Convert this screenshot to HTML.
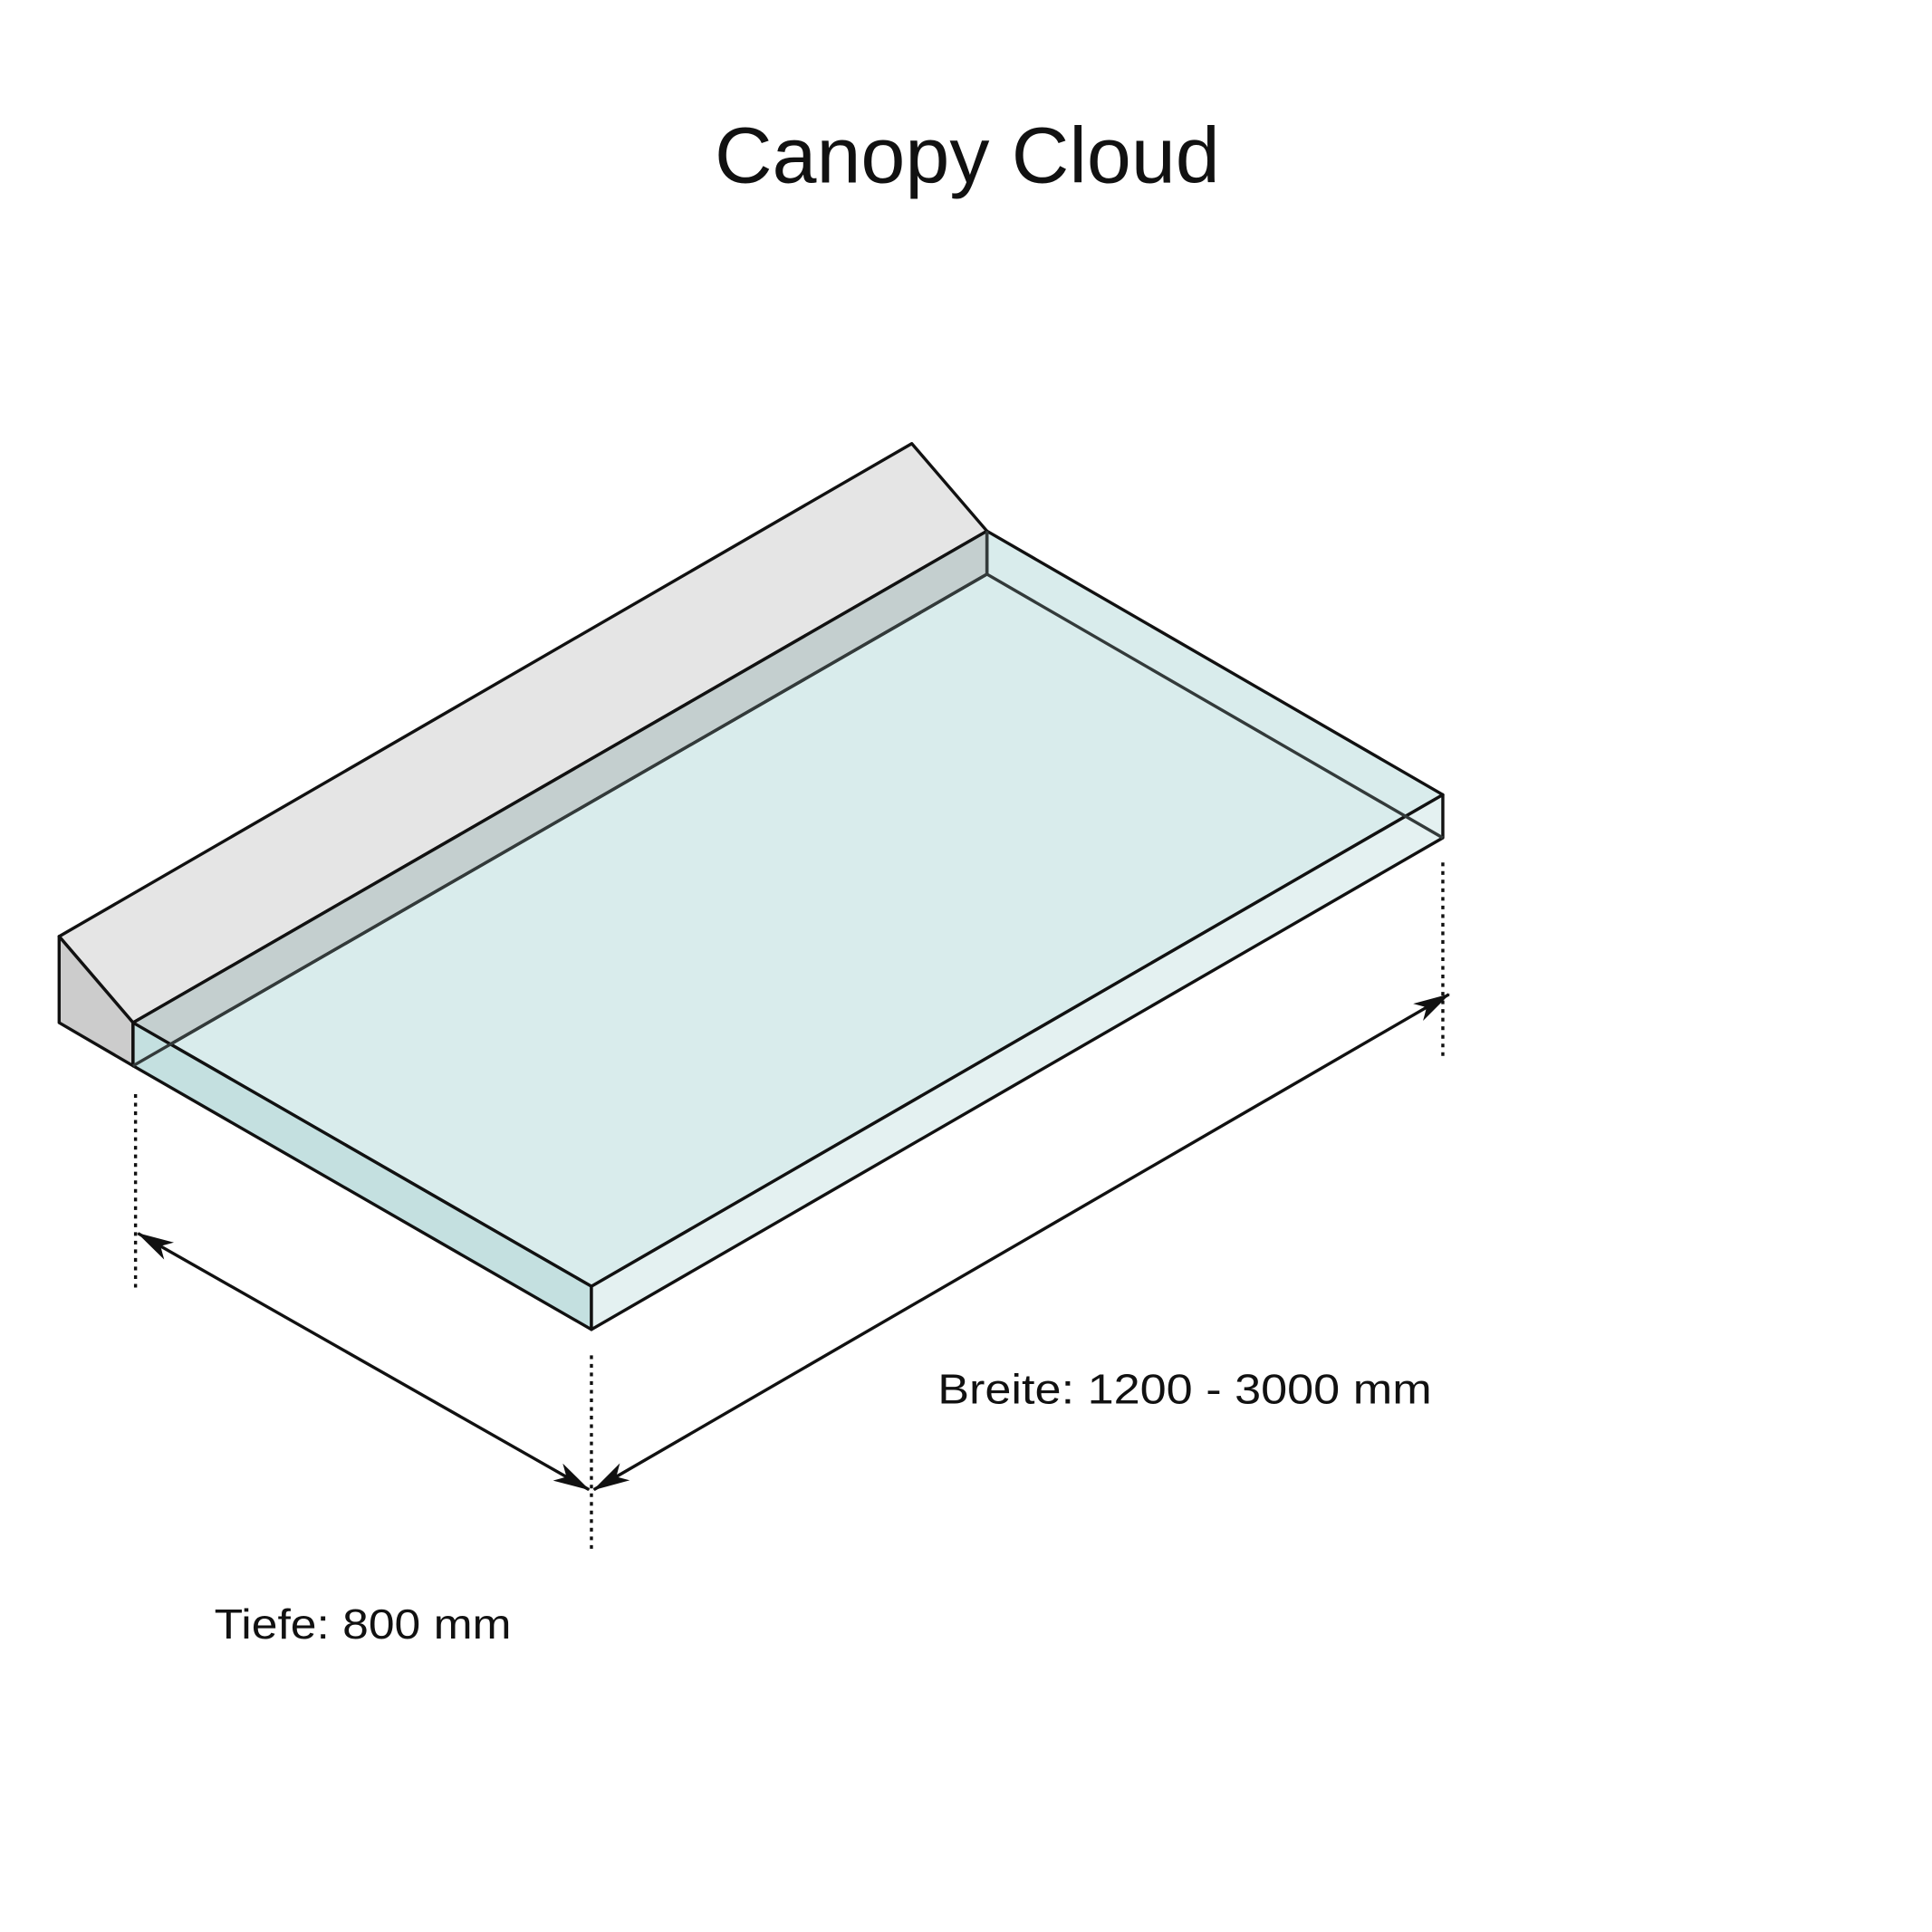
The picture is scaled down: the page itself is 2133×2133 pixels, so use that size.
<!DOCTYPE html>
<html><head><meta charset="utf-8"><style>html,body{margin:0;padding:0;background:#fff}svg{display:block}</style></head>
<body>
<svg width="2133" height="2133" viewBox="0 0 1568 1568" xmlns="http://www.w3.org/2000/svg">
<defs>
<marker id="a" viewBox="0 0 30 16" refX="29" refY="8" markerWidth="30" markerHeight="16" orient="auto-start-reverse" markerUnits="userSpaceOnUse">
<path d="M0,0 L30,8 L0,16 L8,8 z" fill="#111"/></marker>
</defs>
<g stroke="#111" stroke-width="2.5" stroke-linejoin="round">
<polygon points="48,760 740,360 801,431 108,830" fill="#e5e5e5"/>
<polygon points="48,760 108,830 108,865 48,830" fill="#cccccc"/>
<polygon points="108,830 801,431 1171,645 480,1044" fill="#d9ecec"/>
<polygon points="108,830 801,431 801,466 108,865" fill="#c4cfcf"/>
<polygon points="108,830 480,1044 480,1079 108,865" fill="#c4e0e0"/>
<polygon points="480,1044 1171,645 1171,680 480,1079" fill="#e4f1f1"/>
<polyline points="108,865 801,466 1171,680" fill="none" stroke="#333a3a"/>
<line x1="801" y1="431" x2="801" y2="466" stroke="#333a3a"/>
</g>
<g stroke="#111" stroke-width="2.5" fill="none">
<line x1="110" y1="888" x2="110" y2="1048" stroke-dasharray="3,4"/>
<line x1="480" y1="1100" x2="480" y2="1258" stroke-dasharray="3,4"/>
<line x1="1171" y1="700" x2="1171" y2="860" stroke-dasharray="3,4"/>
<line x1="112" y1="1001" x2="478" y2="1209" marker-start="url(#a)" marker-end="url(#a)"/>
<line x1="482" y1="1209" x2="1176" y2="807" marker-start="url(#a)" marker-end="url(#a)"/>
</g>
<g font-family="Liberation Sans, sans-serif" fill="#111">
<text x="580" y="148" font-size="64" textLength="410" lengthAdjust="spacingAndGlyphs">Canopy Cloud</text>
<text x="761" y="1139" font-size="34" textLength="401" lengthAdjust="spacingAndGlyphs">Breite: 1200 - 3000 mm</text>
<text x="174" y="1330" font-size="34" textLength="241" lengthAdjust="spacingAndGlyphs">Tiefe: 800 mm</text>
</g>
</svg>
</body></html>
